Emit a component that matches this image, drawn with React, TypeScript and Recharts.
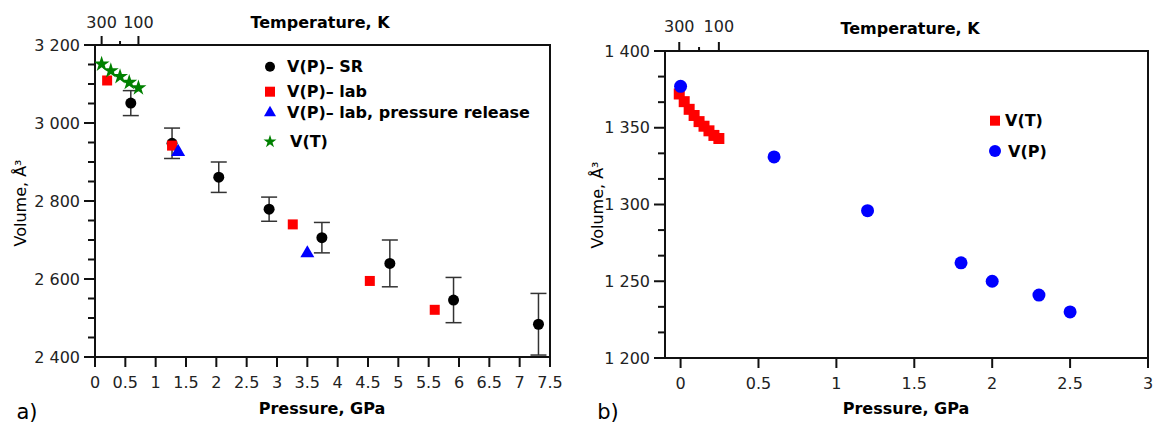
import React from 'react';
import { ScatterChart, Scatter, XAxis, YAxis, ErrorBar, Symbols, Legend, Label } from 'recharts';

const FONT = "'DejaVu Sans', Verdana, sans-serif";
const INK = '#111111';
const TICK_TEXT = '#222222';

// ---------- panel a) data ----------
const SR_PRESSURE = [0.59, 1.27, 2.04, 2.87, 3.74, 4.86, 5.91, 7.31];
const SR_VOLUME = [3051, 2948, 2861, 2779, 2706, 2640, 2546, 2484];
const SR_ERROR = [32, 39, 39, 31, 39, 60, 58, 79];
const LAB_PRESSURE = [0.2, 1.27, 3.26, 4.53, 5.6];
const LAB_VOLUME = [3109, 2942, 2740, 2595, 2521];
const RELEASE_PRESSURE = [1.37, 3.5];
const RELEASE_VOLUME = [2926, 2666];
const VT_A_TEMPERATURE = [300, 250, 200, 150, 100];
const VT_A_VOLUME = [3151, 3134, 3119, 3104, 3090];

// ---------- panel b) data ----------
const VP_B_PRESSURE = [0, 0.6, 1.2, 1.8, 2.0, 2.3, 2.5];
const VP_B_VOLUME = [1377, 1331, 1296, 1262, 1250, 1241, 1230];
const VT_B_TEMPERATURE = [300, 275, 250, 225, 200, 175, 150, 125, 100];
const VT_B_VOLUME = [1372, 1367, 1362, 1358, 1354, 1351, 1348, 1345, 1343];

// ---------- ticks & labels ----------
const A_P_TICKS = [0, 0.5, 1, 1.5, 2, 2.5, 3, 3.5, 4, 4.5, 5, 5.5, 6, 6.5, 7, 7.5];
const A_P_LABELS = ['0', '0.5', '1', '1.5', '2', '2.5', '3', '3.5', '4', '4.5', '5', '5.5', '6', '6.5', '7', '7.5'];
const A_V_TICKS = [2400, 2450, 2500, 2550, 2600, 2650, 2700, 2750, 2800, 2850, 2900, 2950, 3000, 3050, 3100, 3150, 3200];
const A_V_MAJOR = [2400, 2600, 2800, 3000, 3200];
const A_V_LABELS = ['2 400', '2 600', '2 800', '3 000', '3 200'];
const A_T_DOMAIN = [-2136, 336];

const B_P_TICKS = [0, 0.5, 1, 1.5, 2, 2.5, 3];
const B_P_LABELS = ['0', '0.5', '1', '1.5', '2', '2.5', '3'];
const B_V_TICKS = [1200, 1216.67, 1233.33, 1250, 1266.67, 1283.33, 1300, 1316.67, 1333.33, 1350, 1366.67, 1383.33, 1400];
const B_V_MAJOR = [1200, 1250, 1300, 1350, 1400];
const B_V_LABELS = ['1 200', '1 250', '1 300', '1 350', '1 400'];
const B_T_DOMAIN = [-2067, 372];

const T_TICKS = [300, 200, 100];
const T_MAJOR = [300, 100];
const T_LABELS = ['300', '100'];

// ---------- legend entries ----------
const LEGEND_A = [
  { name: 'V(P)\u2013 SR', type: 'circle', color: '#000000' },
  { name: 'V(P)\u2013 lab', type: 'square', color: '#ff0000' },
  { name: 'V(P)\u2013 lab, pressure release', type: 'triangle', color: '#0000ff' },
  { name: 'V(T)', type: 'star', color: '#008000' },
];
const LEGEND_B = [
  { name: 'V(T)', type: 'square', color: '#ff0000' },
  { name: 'V(P)', type: 'circle', color: '#0000ff' },
];

const labelFor = (major: number[], labels: string[], v: number) => {
  const i = major.findIndex((m) => Math.abs(m - v) < 1e-6);
  return i >= 0 ? labels[i] : null;
};

const bottomTick = (major: number[], labels: string[]) => (props: any) => {
  const { x, y, payload } = props;
  const lab = labelFor(major, labels, payload.value);
  return (
    <g>
      <line x1={x} y1={y} x2={x} y2={y + 10} stroke={INK} strokeWidth={2} />
      {lab !== null && (
        <text x={x} y={y + 25} textAnchor="middle" dominantBaseline="central" fontSize={16} fontFamily={FONT} fill={TICK_TEXT}>
          {lab}
        </text>
      )}
    </g>
  );
};

const topTick = (offset: number) => (props: any) => {
  const { x, y, payload } = props;
  const lab = labelFor(T_MAJOR, T_LABELS, payload.value);
  const len = lab !== null ? 9 : 4;
  return (
    <g>
      <line x1={x} y1={y} x2={x} y2={y - len} stroke={INK} strokeWidth={2} />
      {lab !== null && (
        <text x={x} y={y - offset} textAnchor="middle" dominantBaseline="central" fontSize={16} fontFamily={FONT} fill={TICK_TEXT}>
          {lab}
        </text>
      )}
    </g>
  );
};

const leftTick = (major: number[], labels: string[]) => (props: any) => {
  const { x, y, payload } = props;
  const lab = labelFor(major, labels, payload.value);
  const len = lab !== null ? 11 : 7;
  return (
    <g>
      <line x1={x} y1={y} x2={x - len} y2={y} stroke={INK} strokeWidth={2} />
      {lab !== null && (
        <text x={x - 15} y={y} textAnchor="end" dominantBaseline="central" fontSize={16} fontFamily={FONT} fill={TICK_TEXT}>
          {lab}
        </text>
      )}
    </g>
  );
};

const mark = (type: string, color: string, size: number) => (props: any) => (
  <Symbols cx={props.cx} cy={props.cy} type={type as any} size={size} sizeType="diameter" fill={color} stroke="none" />
);

const titleText = (x: number, y: number, text: string, rotate = false, bold = true) => (
  <text
    x={x}
    y={y}
    textAnchor="middle"
    dominantBaseline="central"
    fontSize={16}
    fontWeight={bold ? 'bold' : 'normal'}
    fontFamily={FONT}
    fill="#000"
    transform={rotate ? `rotate(-90, ${x}, ${y})` : undefined}
  >
    {text}
  </text>
);

const legendContent = (items: typeof LEGEND_A, rowY: number[], markX: number, textX: number[], sizes: number[], w: number, h: number) => () => (
  <svg width={w} height={h} style={{ overflow: 'visible', display: 'block' }}>
    {items.map((it, i) => (
      <g key={it.name}>
        <Symbols cx={markX} cy={rowY[i]} type={it.type as any} size={sizes[i]} sizeType="diameter" fill={it.color} />
        <text x={textX[i]} y={rowY[i]} dominantBaseline="central" fontSize={16} fontWeight="bold" fontFamily={FONT} fill="#000">
          {it.name}
        </text>
      </g>
    ))}
  </svg>
);

function PanelA() {
  const srData = SR_PRESSURE.map((p, i) => ({ p, v: SR_VOLUME[i], e: SR_ERROR[i] }));
  const labData = LAB_PRESSURE.map((p, i) => ({ p, v: LAB_VOLUME[i] }));
  const relData = RELEASE_PRESSURE.map((p, i) => ({ p, v: RELEASE_VOLUME[i] }));
  const vtData = VT_A_TEMPERATURE.map((t, i) => ({ t, v: VT_A_VOLUME[i] }));
  return (
    <ScatterChart width={600} height={426} margin={{ top: 15, right: 40, bottom: 29, left: 35 }}>
      <XAxis
        xAxisId="p"
        dataKey="p"
        type="number"
        orientation="bottom"
        domain={[0, 7.5]}
        allowDataOverflow
        ticks={A_P_TICKS}
        interval={0}
        height={40}
        tickSize={0}
        tickMargin={0}
        tickLine={false}
        axisLine={{ stroke: INK, strokeWidth: 2, strokeLinecap: 'square' }}
        tick={bottomTick(A_P_TICKS, A_P_LABELS)}
        label={
          <Label
            content={() => (
              <g>
                {titleText(322, 408, 'Pressure, GPa')}
                <text x={27} y={412} textAnchor="middle" dominantBaseline="central" fontSize={21} fontFamily={FONT} fill="#000">a)</text>
              </g>
            )}
          />
        }
      />
      <XAxis
        xAxisId="t"
        dataKey="t"
        type="number"
        orientation="top"
        domain={A_T_DOMAIN}
        reversed
        allowDataOverflow
        ticks={T_TICKS}
        interval={0}
        height={30}
        tickSize={0}
        tickMargin={0}
        tickLine={false}
        axisLine={{ stroke: INK, strokeWidth: 2, strokeLinecap: 'square' }}
        tick={topTick(23)}
        label={<Label content={() => titleText(320, 22, 'Temperature, K')} />}
      />
      <YAxis
        yAxisId="v"
        dataKey="v"
        type="number"
        domain={[2400, 3200]}
        allowDataOverflow
        ticks={A_V_TICKS}
        interval={0}
        width={60}
        tickSize={0}
        tickMargin={0}
        tickLine={false}
        axisLine={{ stroke: INK, strokeWidth: 2, strokeLinecap: 'square' }}
        tick={leftTick(A_V_MAJOR, A_V_LABELS)}
        label={<Label content={() => titleText(20, 203, 'Volume, \u00C5\u00B3', true, false)} />}
      />
      <YAxis
        yAxisId="r"
        orientation="right"
        type="number"
        domain={[2400, 3200]}
        allowDataOverflow
        width={10}
        tick={false}
        tickLine={false}
        axisLine={{ stroke: INK, strokeWidth: 2, strokeLinecap: 'square' }}
      />
      <Scatter name={LEGEND_A[0].name} data={srData} xAxisId="p" yAxisId="v" isAnimationActive={false} shape={mark('circle', '#000000', 11)}>
        <ErrorBar dataKey="e" direction="y" width={8} stroke="#333333" strokeWidth={1.5} isAnimationActive={false} />
      </Scatter>
      <Scatter name={LEGEND_A[1].name} data={labData} xAxisId="p" yAxisId="v" isAnimationActive={false} shape={mark('square', '#ff0000', 10)} />
      <Scatter name={LEGEND_A[2].name} data={relData} xAxisId="p" yAxisId="v" isAnimationActive={false} shape={mark('triangle', '#0000ff', 14)} />
      <Scatter name={LEGEND_A[3].name} data={vtData} xAxisId="t" yAxisId="v" isAnimationActive={false} shape={mark('star', '#008000', 16)} />
      <Legend
        layout="vertical"
        align="center"
        verticalAlign="middle"
        wrapperStyle={{ left: 250, top: 50, width: 300, height: 105 }}
        content={legendContent(LEGEND_A, [16.7, 41.7, 62.7, 91.7], 20, [37, 37, 37, 40], [10, 10, 12, 13], 300, 105)}
      />
    </ScatterChart>
  );
}

function PanelB() {
  const vpData = VP_B_PRESSURE.map((p, i) => ({ p, v: VP_B_VOLUME[i] }));
  const vtData = VT_B_TEMPERATURE.map((t, i) => ({ t, v: VT_B_VOLUME[i] }));
  return (
    <ScatterChart width={574} height={426} margin={{ top: 21, right: 5, bottom: 28, left: 25 }}>
      <XAxis
        xAxisId="p"
        dataKey="p"
        type="number"
        orientation="bottom"
        domain={[-0.1, 3]}
        allowDataOverflow
        ticks={B_P_TICKS}
        interval={0}
        height={40}
        tickSize={0}
        tickMargin={0}
        tickLine={false}
        axisLine={{ stroke: INK, strokeWidth: 2, strokeLinecap: 'square' }}
        tick={bottomTick(B_P_TICKS, B_P_LABELS)}
        label={
          <Label
            content={() => (
              <g>
                {titleText(326, 408, 'Pressure, GPa')}
                <text x={28} y={412} textAnchor="middle" dominantBaseline="central" fontSize={21} fontFamily={FONT} fill="#000">b)</text>
              </g>
            )}
          />
        }
      />
      <XAxis
        xAxisId="t"
        dataKey="t"
        type="number"
        orientation="top"
        domain={B_T_DOMAIN}
        reversed
        allowDataOverflow
        ticks={T_TICKS}
        interval={0}
        height={30}
        tickSize={0}
        tickMargin={0}
        tickLine={false}
        axisLine={{ stroke: INK, strokeWidth: 2, strokeLinecap: 'square' }}
        tick={topTick(25)}
        label={<Label content={() => titleText(330, 28, 'Temperature, K')} />}
      />
      <YAxis
        yAxisId="v"
        dataKey="v"
        type="number"
        domain={[1200, 1400]}
        allowDataOverflow
        ticks={B_V_TICKS}
        interval={0}
        width={60}
        tickSize={0}
        tickMargin={0}
        tickLine={false}
        axisLine={{ stroke: INK, strokeWidth: 2, strokeLinecap: 'square' }}
        tick={leftTick(B_V_MAJOR, B_V_LABELS)}
        label={<Label content={() => titleText(17, 205, 'Volume, \u00C5\u00B3', true, false)} />}
      />
      <YAxis
        yAxisId="r"
        orientation="right"
        type="number"
        domain={[1200, 1400]}
        allowDataOverflow
        width={1}
        tick={false}
        tickLine={false}
        axisLine={{ stroke: INK, strokeWidth: 2, strokeLinecap: 'square' }}
      />
      <Scatter name={LEGEND_B[0].name} data={vtData} xAxisId="t" yAxisId="v" isAnimationActive={false} shape={mark('square', '#ff0000', 11)} />
      <Scatter name={LEGEND_B[1].name} data={vpData} xAxisId="p" yAxisId="v" isAnimationActive={false} shape={mark('circle', '#0000ff', 13)} />
      <Legend
        layout="vertical"
        align="center"
        verticalAlign="middle"
        wrapperStyle={{ left: 400, top: 105, width: 80, height: 62 }}
        content={legendContent(LEGEND_B as any, [15.7, 46], 15, [25, 28], [10, 12], 80, 62)}
      />
    </ScatterChart>
  );
}

export default function App() {
  return (
    <div style={{ position: 'absolute', left: 0, top: 0, width: 1154, height: 426, background: '#ffffff', fontFamily: FONT }}>
      <div style={{ position: 'absolute', left: 0, top: 0 }}>
        <PanelA />
      </div>
      <div style={{ position: 'absolute', left: 580, top: 0 }}>
        <PanelB />
      </div>
    </div>
  );
}
